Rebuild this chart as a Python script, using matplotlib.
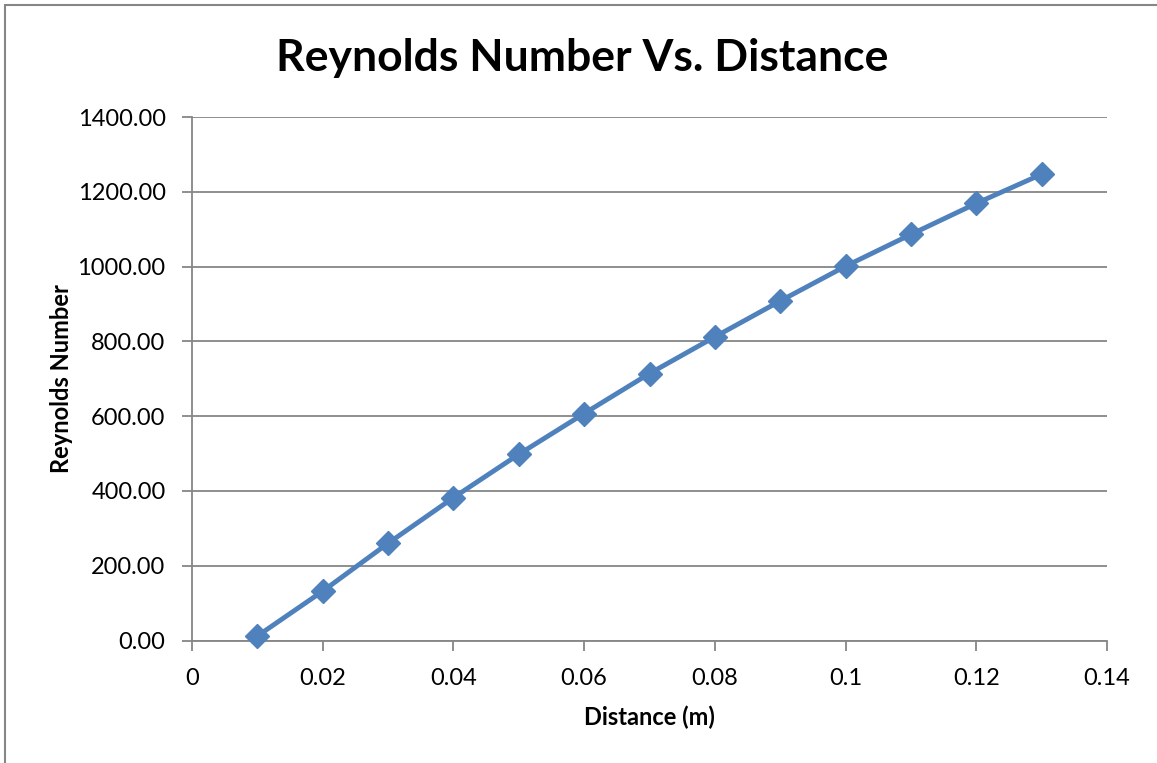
import matplotlib
matplotlib.use("Agg")
import matplotlib.pyplot as plt
from matplotlib.patches import Rectangle

# Reynolds number along the plate
distance = [0.01, 0.02, 0.03, 0.04, 0.05, 0.06, 0.07, 0.08, 0.09, 0.10, 0.11, 0.12, 0.13]
reynolds = [12, 132, 260, 382, 498, 607, 714, 812, 908, 1001, 1086, 1169, 1247]

x_ticks = [0, 0.02, 0.04, 0.06, 0.08, 0.1, 0.12, 0.14]
x_tick_labels = ["0", "0.02", "0.04", "0.06", "0.08", "0.1", "0.12", "0.14"]
y_ticks = [0, 200, 400, 600, 800, 1000, 1200, 1400]
y_tick_labels = [f"{v:.2f}" for v in y_ticks]

plt.rcParams["font.family"] = ["Lato", "DejaVu Sans"]

W, H = 1157, 763
fig = plt.figure(figsize=(W / 100, H / 100), dpi=100)
fig.patch.set_facecolor("white")

# chart-area border
fig.patches.append(Rectangle((5 / W, -0.1), 1.2, 1 - 5 / H + 0.1,
                             transform=fig.transFigure, fill=False,
                             edgecolor="#868686", linewidth=1.5))

ax = fig.add_axes([192 / W, 1 - 640.5 / H, (1107 - 192) / W, (640.5 - 117) / H])

grid_col = "#868686"
ax.set_xlim(0, 0.14)
ax.set_ylim(0, 1400)
ax.set_xticks(x_ticks)
ax.set_xticklabels(x_tick_labels)
ax.set_yticks(y_ticks)
ax.set_yticklabels(y_tick_labels)
ax.yaxis.grid(True, color=grid_col, linewidth=1.3)
ax.set_axisbelow(True)

for side in ("top", "right"):
    ax.spines[side].set_visible(False)
for side in ("left", "bottom"):
    ax.spines[side].set_color(grid_col)
    ax.spines[side].set_linewidth(1.3)

ax.tick_params(axis="both", colors=grid_col, width=1.3, length=7,
               labelcolor="black", labelsize=17)
ax.tick_params(axis="y", pad=12)
ax.tick_params(axis="x", pad=13)

ax.plot(distance, reynolds, color="#4F81BD", linewidth=3.5,
        marker="D", markersize=12, markerfacecolor="#4F81BD",
        markeredgecolor="#4F81BD", clip_on=False, zorder=3)

ax.set_xlabel("Distance (m)", fontsize=17, fontweight="bold", labelpad=12)
ax.set_ylabel("Reynolds Number", fontsize=17, fontweight="bold", labelpad=3)
fig.text(0.5035, 1 - 58 / H, "Reynolds Number Vs. Distance", ha="center",
         va="center", fontsize=32, fontweight="bold")

fig.savefig("out.png", dpi=100, facecolor="white")
